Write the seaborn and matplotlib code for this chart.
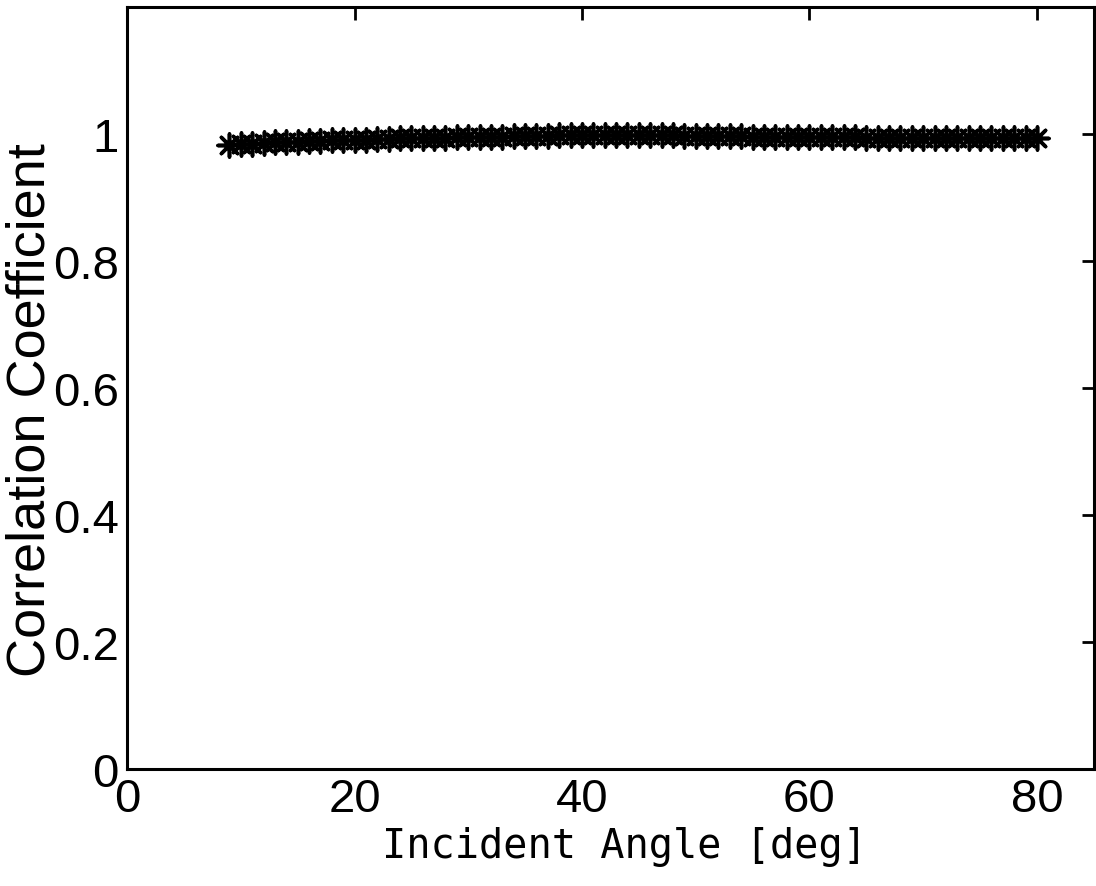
import matplotlib
matplotlib.use("Agg")
import pandas as pd
import matplotlib.pyplot as plt
import seaborn as sns

# Incident angle (deg) and correlation coefficient
angles = list(range(9, 81))
corr = [0.983, 0.984, 0.985, 0.986, 0.987, 0.987, 0.988, 0.989, 0.989, 0.990,
        0.990, 0.991, 0.991, 0.992, 0.992, 0.993, 0.993, 0.994, 0.994, 0.994,
        0.995, 0.995, 0.996, 0.996, 0.996, 0.997, 0.997, 0.997, 0.997, 0.998,
        0.998, 0.998, 0.998, 0.998, 0.998, 0.998, 0.998, 0.998, 0.998, 0.998,
        0.997, 0.997, 0.997, 0.997, 0.997, 0.997, 0.996, 0.996, 0.996, 0.996,
        0.996, 0.995, 0.995, 0.995, 0.995, 0.995, 0.994, 0.994, 0.994, 0.994,
        0.993, 0.993, 0.993, 0.993, 0.993, 0.993, 0.993, 0.993, 0.993, 0.993,
        0.993, 0.993]

x_ticks = [0, 20, 40, 60, 80]
y_ticks = [0, 0.2, 0.4, 0.6, 0.8, 1]
y_tick_labels = ["0", "0.2", "0.4", "0.6", "0.8", "1"]

df = pd.DataFrame({"angle": angles, "corr": corr})

sns.set_style("white")
plt.rcParams["font.family"] = ["Liberation Sans", "DejaVu Sans"]
plt.rcParams["text.color"] = "black"
plt.rcParams["axes.labelcolor"] = "black"

fig = plt.figure(figsize=(10.96, 8.87), dpi=100)
ax = fig.add_axes([0.1159, 0.1319, 0.998 - 0.1159, 0.991 - 0.1319])

sns.scatterplot(data=df, x="angle", y="corr", marker=(8, 2, 0), s=270,
                color="black", linewidth=2.6, ax=ax, legend=False)

ax.set_xlim(0, 85)
ax.set_ylim(0, 1.2)
ax.set_xticks(x_ticks)
ax.set_yticks(y_ticks)
ax.set_yticklabels(y_tick_labels)
ax.tick_params(direction="in", length=9, width=2, labelsize=34, pad=6,
               top=True, right=True, colors="black")
for sp in ax.spines.values():
    sp.set_linewidth(2.2)
    sp.set_color("black")

ax.set_xlabel("Incident Angle [deg]", fontsize=29, family="DejaVu Sans Mono")
ax.xaxis.set_label_coords(0.515, -0.075)
ax.set_ylabel("Correlation Coefficient", fontsize=39)
ax.yaxis.set_label_coords(-0.074, 0.472)

fig.savefig("out.png", dpi=100)
